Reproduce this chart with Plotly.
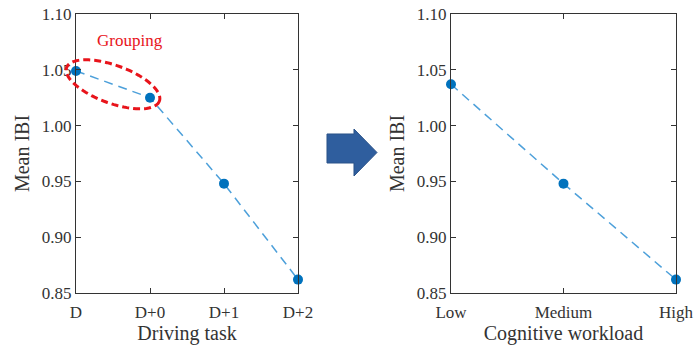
import numpy as np
import plotly.graph_objects as go

# ---- data ----
tasks = ["D", "D+0", "D+1", "D+2"]
task_ibi = [1.049, 1.025, 0.948, 0.862]
workload = ["Low", "Medium", "High"]
workload_ibi = [1.037, 0.948, 0.862]
y_ticks = [0.85, 0.90, 0.95, 1.00, 1.05, 1.10]
y_tick_labels = ["0.85", "0.90", "0.95", "1.00", "1.05", "1.10"]

W, H = 695, 352
FONT = "Liberation Serif, Times New Roman, serif"
TXT = "#333333"
BLUE = "#0072BD"

# panel domains (pixels)
L1, R1 = 76, 298
L2, R2 = 451, 676
TOP, BOT = 14, 293
YR = [0.85, 1.10]

fig = go.Figure()
fig.add_trace(go.Scatter(
    x=list(range(len(tasks))), y=task_ibi, mode="lines+markers",
    line=dict(color="#4DA0DA", width=1.5, dash="9px,6px"),
    marker=dict(color=BLUE, size=10), cliponaxis=False,
    xaxis="x", yaxis="y", showlegend=False))
fig.add_trace(go.Scatter(
    x=list(range(len(workload))), y=workload_ibi, mode="lines+markers",
    line=dict(color="#4DA0DA", width=1.5, dash="9px,6px"),
    marker=dict(color=BLUE, size=10), cliponaxis=False,
    xaxis="x2", yaxis="y2", showlegend=False))

axis_common = dict(showline=True, linecolor="#333333", linewidth=1, mirror="ticks",
                   ticks="inside", ticklen=5, tickcolor="#333333", showgrid=False,
                   zeroline=False, automargin=False,
                   tickfont=dict(family=FONT, size=17, color=TXT))
title_font = dict(family=FONT, size=20, color=TXT)

fig.update_layout(
    width=W, height=H, margin=dict(l=0, r=0, t=0, b=0),
    paper_bgcolor="white", plot_bgcolor="white",
    xaxis=dict(domain=[L1 / W, R1 / W], range=[0, len(tasks) - 1],
               tickmode="array", tickvals=list(range(len(tasks))), ticktext=tasks,
               ticklabelstandoff=4,
               title=dict(text="Driving task", font=title_font, standoff=4),
               anchor="y", **axis_common),
    yaxis=dict(domain=[1 - BOT / H, 1 - TOP / H], range=YR,
               tickmode="array", tickvals=y_ticks, ticktext=y_tick_labels,
               title=dict(text="Mean IBI", font=title_font, standoff=6),
               anchor="x", **axis_common),
    xaxis2=dict(domain=[L2 / W, R2 / W], range=[0, len(workload) - 1],
                tickmode="array", tickvals=list(range(len(workload))), ticktext=workload,
                ticklabelstandoff=4,
                title=dict(text="Cognitive workload", font=title_font, standoff=4),
                anchor="y2", **axis_common),
    yaxis2=dict(domain=[1 - BOT / H, 1 - TOP / H], range=YR,
                tickmode="array", tickvals=y_ticks, ticktext=y_tick_labels,
                title=dict(text="Mean IBI", font=title_font, standoff=6),
                anchor="x2", **axis_common),
)


def to_px(xv, yv, left, right, nx):
    px = left + xv / (nx - 1) * (right - left)
    py = TOP + (YR[1] - yv) / (YR[1] - YR[0]) * (BOT - TOP)
    return px, py


# grouping ellipse around the first two points (left panel)
p0 = to_px(0, task_ibi[0], L1, R1, len(tasks))
p1 = to_px(1, task_ibi[1], L1, R1, len(tasks))
cx, cy = (p0[0] + p1[0]) / 2, (p0[1] + p1[1]) / 2
ang = np.arctan2(p1[1] - p0[1], p1[0] - p0[0])
a = np.hypot(p1[0] - p0[0], p1[1] - p0[1]) / 2 + 10
b = 19
t = np.linspace(0, 2 * np.pi, 90)
ex = cx + a * np.cos(t) * np.cos(ang) - b * np.sin(t) * np.sin(ang)
ey = cy + a * np.cos(t) * np.sin(ang) + b * np.sin(t) * np.cos(ang)
path = "M " + " L ".join(f"{x / W:.5f},{1 - y / H:.5f}" for x, y in zip(ex, ey)) + " Z"
fig.add_shape(type="path", xref="paper", yref="paper", path=path,
              line=dict(color="#E8141B", width=3, dash="7px,4px"), layer="above")

fig.add_annotation(x=0.73, y=1.076, xref="x", yref="y", text="Grouping", showarrow=False,
                   font=dict(family=FONT, size=17, color="#E8141B"))

# block arrow between the panels
arrow_px = [(327, 134), (354, 134), (354, 129), (377, 152.5), (354, 176), (354, 163), (327, 163)]
apath = "M " + " L ".join(f"{x / W:.5f},{1 - y / H:.5f}" for x, y in arrow_px) + " Z"
fig.add_shape(type="path", xref="paper", yref="paper", path=apath,
              fillcolor="#2F5E9E", line=dict(color="#2A5289", width=1))

fig.write_html("out.html", config={"displayModeBar": False},
               post_script="document.body.style.margin='0';document.body.style.overflow='hidden';")
